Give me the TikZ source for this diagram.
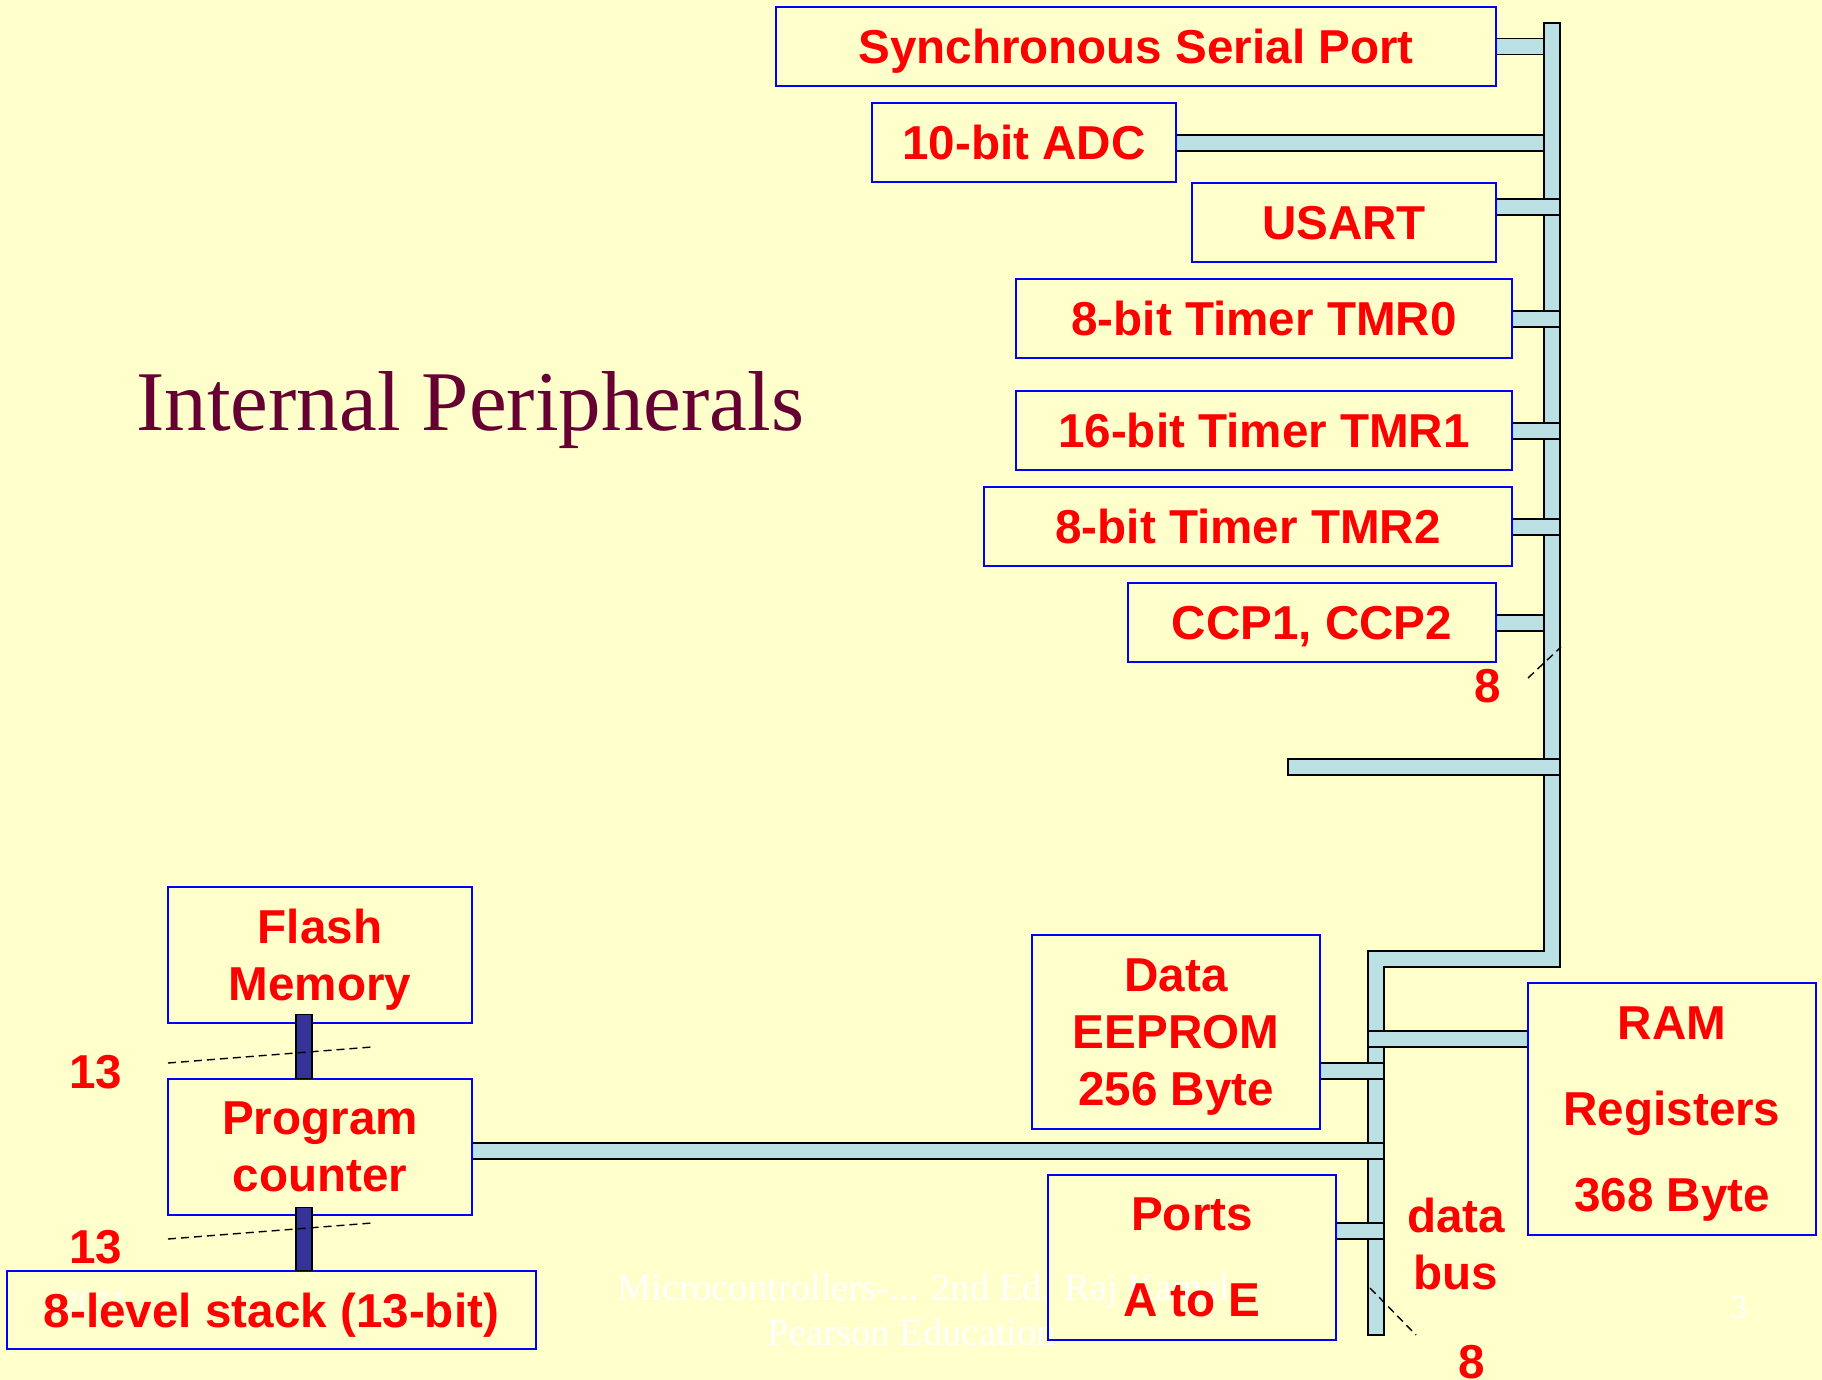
\documentclass[tikz,border=0pt]{standalone}
\usepackage{fontspec}
\setmainfont{Liberation Serif}
\setsansfont{Liberation Sans}
\usetikzlibrary{calc,backgrounds}
\definecolor{slidebg}{HTML}{FFFFCC}
\definecolor{busblue}{HTML}{BBE0E3}
\definecolor{pcblue}{HTML}{333399}
\definecolor{titlered}{HTML}{660033}
\newcommand\redfont{\sffamily\bfseries\fontsize{23.8}{28.5}\selectfont}
\newcommand\busarm[4]{\draw[bus] ($(#1)+(0,#3)$) rectangle ($(#1 -| #2)+(0,#4)$);}
\tikzset{
  blk/.style={draw=blue,line width=0.6pt,inner sep=0pt,text=red,
    font=\redfont,align=center},
  oneline/.style={blk,text depth=0pt,minimum height=39.5pt},
  bus/.style={draw=black,fill=busblue,line width=0.7pt},
  pcbar/.style={draw=black,fill=pcblue,line width=0.7pt},
  wdash/.style={black,line width=0.7pt,dash pattern=on 4pt off 2.5pt},
  lbl/.style={text=red,font=\redfont,inner sep=0pt,align=center},
  foot/.style={text=white,font=\fontsize{19.3}{22}\selectfont,inner sep=0pt},
  footsm/.style={text=white,font=\fontsize{16.5}{19}\selectfont,inner sep=0pt},
  ttl/.style={text=titlered,font=\fontsize{42.5}{48}\selectfont,inner sep=0pt},
}
\begin{document}
\begin{tikzpicture}[x=0.5pt,y=-0.5pt]
  \begin{scope}[on background layer]
    \fill[slidebg] (0,0) rectangle (1822,1380);
  \end{scope}
  \useasboundingbox (0,0) rectangle (1822,1380);

  % faint slide footer
  \node[foot,anchor=base] (src) at (924,1300) {Microcontrollers-... 2nd Ed. Raj Kamal};
  \node[foot,anchor=base] (pub) at (912,1345) {Pearson Education};
  \node[footsm,anchor=base west] (yr) at (62,1313) {2011};
  \node[footsm,anchor=base] (pg) at (1739,1318) {3};

  \node[ttl,anchor=base west] (title) at (136,430) {Internal Peripherals};

  % peripherals on the right bus
  \node[oneline,minimum width=360pt] (ssp) at (1136,46.5) {Synchronous Serial Port};
  \node[oneline,minimum width=152pt] (adc) at (1024,142.5) {10-bit ADC};
  \node[oneline,minimum width=152pt] (usart) at (1344,222.5) {USART};
  \node[oneline,minimum width=248pt] (tmr0) at (1264,318.5) {8-bit Timer TMR0};
  \node[oneline,minimum width=248pt] (tmr1) at (1264,430.5) {16-bit Timer TMR1};
  \node[oneline,minimum width=264pt] (tmr2) at (1248,526.5) {8-bit Timer TMR2};
  \node[oneline,minimum width=184pt] (ccp) at (1312,622.5) {CCP1, CCP2};

  % memories and ports on the data bus
  \node[blk,minimum width=144pt,minimum height=97pt] (eeprom) at (1176,1032) {Data\\EEPROM\\\smash{256 Byte}};
  \node[blk,minimum width=144pt,minimum height=126pt] (ram) at (1672,1109) {RAM\\[14.5pt]Registers\\[14.5pt]\smash{368 Byte}};
  \node[blk,minimum width=144pt,minimum height=82.5pt] (ports) at (1192,1257.5) {Ports\\[14.5pt]A to E};

  % program side
  \node[blk,minimum width=152pt,minimum height=68pt] (flash) at (320,955) {Flash\\\smash{Memory}};
  \node[blk,minimum width=152pt,minimum height=68pt] (pc) at (320,1147) {Program\\counter};
  \node[oneline,minimum width=264.5pt,minimum height=39pt] (stack) at (271.5,1310) {8-level stack (13-bit)};

  \coordinate (rbus) at (1544,23);
  \coordinate (rbusR) at (1560,23);
  \coordinate (dbus) at (1368,1335);
  \coordinate (dbusR) at (1384,1335);
  \coordinate (stub) at (1288,759);

  \begin{scope}[on background layer]
    \draw[bus] (rbus) -- (rbusR) -- (1560,967) -- (1384,967) -- (dbusR)
      -- (dbus) -- (1368,951) -- (1544,951) -- cycle;
    \busarm{ssp.east}{rbus}{-8}{8}
    \busarm{adc.east}{rbus}{-7.5}{8.5}
    \busarm{usart.east}{rbusR}{-23.5}{-7.5}
    \busarm{tmr0.east}{rbusR}{-7.5}{8.5}
    \busarm{tmr1.east}{rbusR}{-7.5}{8.5}
    \busarm{tmr2.east}{rbusR}{-7.5}{8.5}
    \busarm{ccp.east}{rbus}{-7.5}{8.5}
    \draw[bus] (stub) rectangle (1560,775);
    \busarm{eeprom.east}{dbusR}{31}{47}
    \busarm{ram.west}{dbus}{-78}{-62}
    \busarm{pc.east}{dbusR}{-4}{12}
    \busarm{ports.east}{dbusR}{-34.5}{-18.5}
  \end{scope}

  % 13-bit address lines
  \draw[pcbar] ($(flash.south)+(-24,-9)$) rectangle ($(pc.north)+(-8,0)$);
  \draw[pcbar] ($(pc.south)+(-24,-8)$) rectangle ($(pc.south |- stack.north)+(-8,0)$);

  % bus width ticks
  \draw[wdash] (168,1063) -- (372,1047);
  \draw[wdash] (168,1239) -- (372,1223);
  \draw[wdash] (1528,678) -- (1561,647);
  \draw[wdash] (1370,1288) -- (1416,1335);

  \node[lbl] (w13a) at (96,1072) {13};
  \node[lbl] (w13b) at (96,1247) {13};
  \node[lbl] (w8a) at (1488,686) {8};
  \node[lbl] (w8b) at (1472,1362) {8};
  \node[lbl] (dbl) at (1456,1244) {data\\bus};
\end{tikzpicture}
\end{document}
